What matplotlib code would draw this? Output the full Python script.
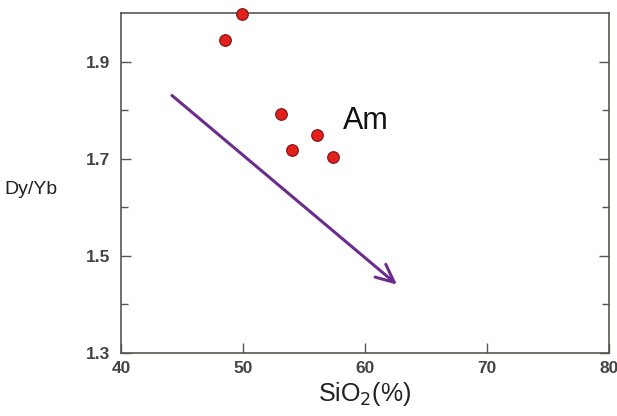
import matplotlib.pyplot as plt

plt.rcParams['font.family'] = ['Liberation Sans', 'DejaVu Sans']

# muestras (SiO2 %, Dy/Yb)
sio2 = [49.9, 48.5, 53.1, 56.1, 54.0, 57.4]
dyyb = [1.998, 1.945, 1.793, 1.748, 1.717, 1.703]

# tendencia
flecha_inicio = (44.0, 1.834)
flecha_fin = (62.8, 1.437)

xticks = [40, 50, 60, 70, 80]
yticks = [1.3, 1.5, 1.7, 1.9]

fig = plt.figure(figsize=(6.17, 4.16), dpi=100)
ax = fig.add_axes([121/617, 1 - 353/416, 488/617, 340/416])

ax.scatter(sio2, dyyb, s=70, color='#e3201b', edgecolors='#7a1010', linewidths=0.8,
           zorder=3, clip_on=False)

ax.annotate('', xy=flecha_fin, xytext=flecha_inicio,
            arrowprops=dict(arrowstyle='->,head_length=1.3,head_width=0.6',
                            color='#6b2d8c', lw=2.2))

ax.text(58.2, 1.778, 'Am', fontsize=22, color='#111111', va='center', ha='left')

ax.set_xlim(40, 80)
ax.set_ylim(1.3, 2.0)
ax.set_xticks(xticks)
ax.set_yticks(yticks)
ax.set_yticks([1.4, 1.6, 1.8], minor=True)
ax.set_yticklabels(['1.3', '1.5', '1.7', '1.9'])

for s in ax.spines.values():
    s.set_color('#5a5550')
    s.set_linewidth(1.2)

ax.tick_params(axis='both', which='both', direction='in', color='#5a5550',
               labelcolor='#444444', labelsize=12.5, right=True, length=7, width=1.0)
ax.tick_params(axis='both', which='minor', length=5)
ax.tick_params(axis='x', pad=6)
ax.tick_params(axis='y', pad=8)
for lbl in ax.get_xticklabels() + ax.get_yticklabels():
    lbl.set_fontweight('bold')

ax.set_xlabel('SiO$_2$(%)', fontsize=18, color='#222222', labelpad=3)
fig.text(31/617, 1 - 190/416, 'Dy/Yb', fontsize=14, color='#222222', ha='center', va='center')

fig.savefig('out.png', dpi=100)
